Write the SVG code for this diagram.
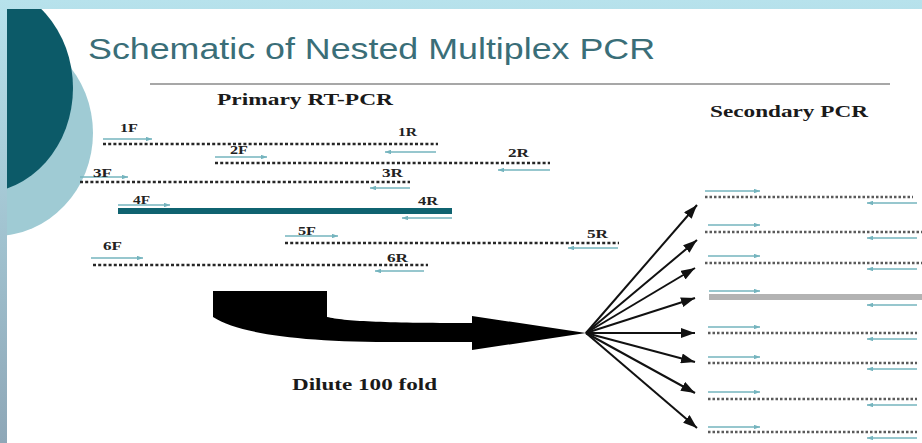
<svg xmlns="http://www.w3.org/2000/svg" width="922" height="443" viewBox="0 0 922 443">
<style>
.lbl{font-family:"Liberation Serif","Times New Roman",serif;font-weight:bold;font-size:13px;fill:#222}
.hdr{font-family:"Liberation Serif","Times New Roman",serif;font-weight:bold;font-size:17px;fill:#1a1a1a}
.tpl{stroke:#262626;stroke-width:2.6;stroke-dasharray:3 2.2;fill:none}
.tpl2{stroke:#5a5a5a;stroke-width:2.4;stroke-dasharray:2.5 2;fill:none}
.pr{stroke:#74b4be;stroke-width:1.3;fill:none;marker-end:url(#ph)}
.fan{stroke:#111;stroke-width:2;fill:none;marker-end:url(#ah)}
</style>
<defs>
<linearGradient id="bg" x1="0" y1="0" x2="0" y2="1">
<stop offset="0" stop-color="#b7e2ec"/>
<stop offset="1" stop-color="#8ea7b7"/>
</linearGradient>
<clipPath id="panel"><rect x="7" y="9" width="915" height="434"/></clipPath>
<marker id="ph" viewBox="0 0 8 6" refX="8" refY="3" markerWidth="6" markerHeight="4.5" markerUnits="userSpaceOnUse" orient="auto">
<path d="M0,0 L8,3 L0,6 Z" fill="#74b4be"/>
</marker>
<marker id="ah" viewBox="0 0 14 10" refX="14" refY="5" markerWidth="14" markerHeight="10" markerUnits="userSpaceOnUse" orient="auto">
<path d="M0,0 L14,5 L0,10 Z" fill="#111"/>
</marker>
</defs>
<rect width="922" height="443" fill="url(#bg)"/>
<rect x="7" y="9" width="915" height="434" fill="#ffffff"/>
<g clip-path="url(#panel)">
<ellipse cx="-5" cy="133" rx="98" ry="103" fill="#9fcbd4"/>
<ellipse cx="-20" cy="88" rx="93" ry="105" fill="#0c5a68"/>
</g>
<text x="88" y="59" font-family="Liberation Sans, Arial, sans-serif" font-size="29" fill="#3a6e78" textLength="567" lengthAdjust="spacingAndGlyphs">Schematic of Nested Multiplex PCR</text>
<line x1="150" y1="84" x2="890" y2="84" stroke="#8a8a8a" stroke-width="1.6"/>
<text class="hdr" x="217" y="105" textLength="176" lengthAdjust="spacingAndGlyphs">Primary RT-PCR</text>
<text class="hdr" x="710" y="117" textLength="158" lengthAdjust="spacingAndGlyphs">Secondary PCR</text>

<g id="amp1">
<line class="tpl" x1="103" y1="144" x2="438" y2="144"/>
<line class="pr" x1="103" y1="139" x2="152" y2="139"/>
<line class="pr" x1="436" y1="152" x2="385" y2="152"/>
<text class="lbl" x="120" y="132" textLength="18" lengthAdjust="spacingAndGlyphs">1F</text>
<text class="lbl" x="398" y="136" textLength="19" lengthAdjust="spacingAndGlyphs">1R</text>
</g>
<g id="amp2">
<line class="tpl" x1="215" y1="163" x2="550" y2="163"/>
<line class="pr" x1="215" y1="157" x2="267" y2="157"/>
<line class="pr" x1="550" y1="170" x2="498" y2="170"/>
<text class="lbl" x="230" y="154" textLength="18" lengthAdjust="spacingAndGlyphs">2F</text>
<text class="lbl" x="508" y="157" textLength="21" lengthAdjust="spacingAndGlyphs">2R</text>
</g>
<g id="amp3">
<line class="tpl" x1="80" y1="182" x2="410" y2="182"/>
<line class="pr" x1="80" y1="177" x2="128" y2="177"/>
<line class="pr" x1="410" y1="188" x2="370" y2="188"/>
<text class="lbl" x="93" y="177" textLength="19" lengthAdjust="spacingAndGlyphs">3F</text>
<text class="lbl" x="382" y="177" textLength="21" lengthAdjust="spacingAndGlyphs">3R</text>
</g>
<g id="amp4">
<rect x="118" y="208" width="334" height="6" fill="#0f6370"/>
<line class="pr" x1="118" y1="205" x2="170" y2="205"/>
<line class="pr" x1="452" y1="218" x2="402" y2="218"/>
<text class="lbl" x="133" y="204" textLength="17" lengthAdjust="spacingAndGlyphs">4F</text>
<text class="lbl" x="418" y="205" textLength="20" lengthAdjust="spacingAndGlyphs">4R</text>
</g>
<g id="amp5">
<line class="tpl" x1="285" y1="243" x2="619" y2="243"/>
<line class="pr" x1="285" y1="236" x2="338" y2="236"/>
<line class="pr" x1="618" y1="248" x2="568" y2="248"/>
<text class="lbl" x="298" y="235" textLength="18" lengthAdjust="spacingAndGlyphs">5F</text>
<text class="lbl" x="587" y="238" textLength="21" lengthAdjust="spacingAndGlyphs">5R</text>
</g>
<g id="amp6">
<line class="tpl" x1="93" y1="265" x2="428" y2="265"/>
<line class="pr" x1="91" y1="258" x2="143" y2="258"/>
<line class="pr" x1="424" y1="271" x2="375" y2="271"/>
<text class="lbl" x="103" y="250" textLength="19" lengthAdjust="spacingAndGlyphs">6F</text>
<text class="lbl" x="387" y="262" textLength="21" lengthAdjust="spacingAndGlyphs">6R</text>
</g>

<g id="secondary">
<g id="s1">
<line class="tpl2" x1="705" y1="197" x2="913" y2="197"/>
<line class="pr" x1="705" y1="191" x2="760" y2="191"/>
<line class="pr" x1="917" y1="203" x2="867" y2="203"/>
</g>
<g id="s2">
<line class="tpl2" x1="705" y1="232" x2="922" y2="232"/>
<line class="pr" x1="708" y1="225" x2="760" y2="225"/>
<line class="pr" x1="917" y1="238" x2="867" y2="238"/>
</g>
<g id="s3">
<line class="tpl2" x1="705" y1="263" x2="922" y2="263"/>
<line class="pr" x1="708" y1="256" x2="760" y2="256"/>
<line class="pr" x1="917" y1="269" x2="867" y2="269"/>
</g>
<g id="s4">
<rect x="709" y="294" width="213" height="6" fill="#b3b3b3"/>
<line class="pr" x1="709" y1="291" x2="760" y2="291"/>
<line class="pr" x1="917" y1="305" x2="867" y2="305"/>
</g>
<g id="s5">
<line class="tpl2" x1="708" y1="333" x2="917" y2="333"/>
<line class="pr" x1="708" y1="327" x2="760" y2="327"/>
<line class="pr" x1="917" y1="339" x2="867" y2="339"/>
</g>
<g id="s6">
<line class="tpl2" x1="708" y1="363" x2="917" y2="363"/>
<line class="pr" x1="708" y1="357" x2="760" y2="357"/>
<line class="pr" x1="917" y1="369" x2="867" y2="369"/>
</g>
<g id="s7">
<line class="tpl2" x1="708" y1="399" x2="917" y2="399"/>
<line class="pr" x1="708" y1="392" x2="760" y2="392"/>
<line class="pr" x1="917" y1="405" x2="867" y2="405"/>
</g>
<g id="s8">
<line class="tpl2" x1="708" y1="432" x2="917" y2="432"/>
<line class="pr" x1="708" y1="427" x2="760" y2="427"/>
<line class="pr" x1="917" y1="438" x2="867" y2="438"/>
</g>
</g>

<g id="connectors">
<path d="M213,291 L327,291 L327,317 C345,321 380,323 472,323 L472,316 L586,333 L472,350 L472,342 L400,342 C300,342 240,334 213,317 Z" fill="#000"/>
<line class="fan" x1="586" y1="333" x2="697" y2="205"/>
<line class="fan" x1="586" y1="333" x2="697" y2="240"/>
<line class="fan" x1="586" y1="333" x2="695" y2="268"/>
<line class="fan" x1="586" y1="333" x2="695" y2="298"/>
<line class="fan" x1="586" y1="333" x2="695" y2="333"/>
<line class="fan" x1="586" y1="333" x2="695" y2="362"/>
<line class="fan" x1="586" y1="333" x2="695" y2="393"/>
<line class="fan" x1="586" y1="333" x2="697" y2="428"/>
</g>
<text class="hdr" x="292" y="390" textLength="145" lengthAdjust="spacingAndGlyphs">Dilute 100 fold</text>
</svg>
